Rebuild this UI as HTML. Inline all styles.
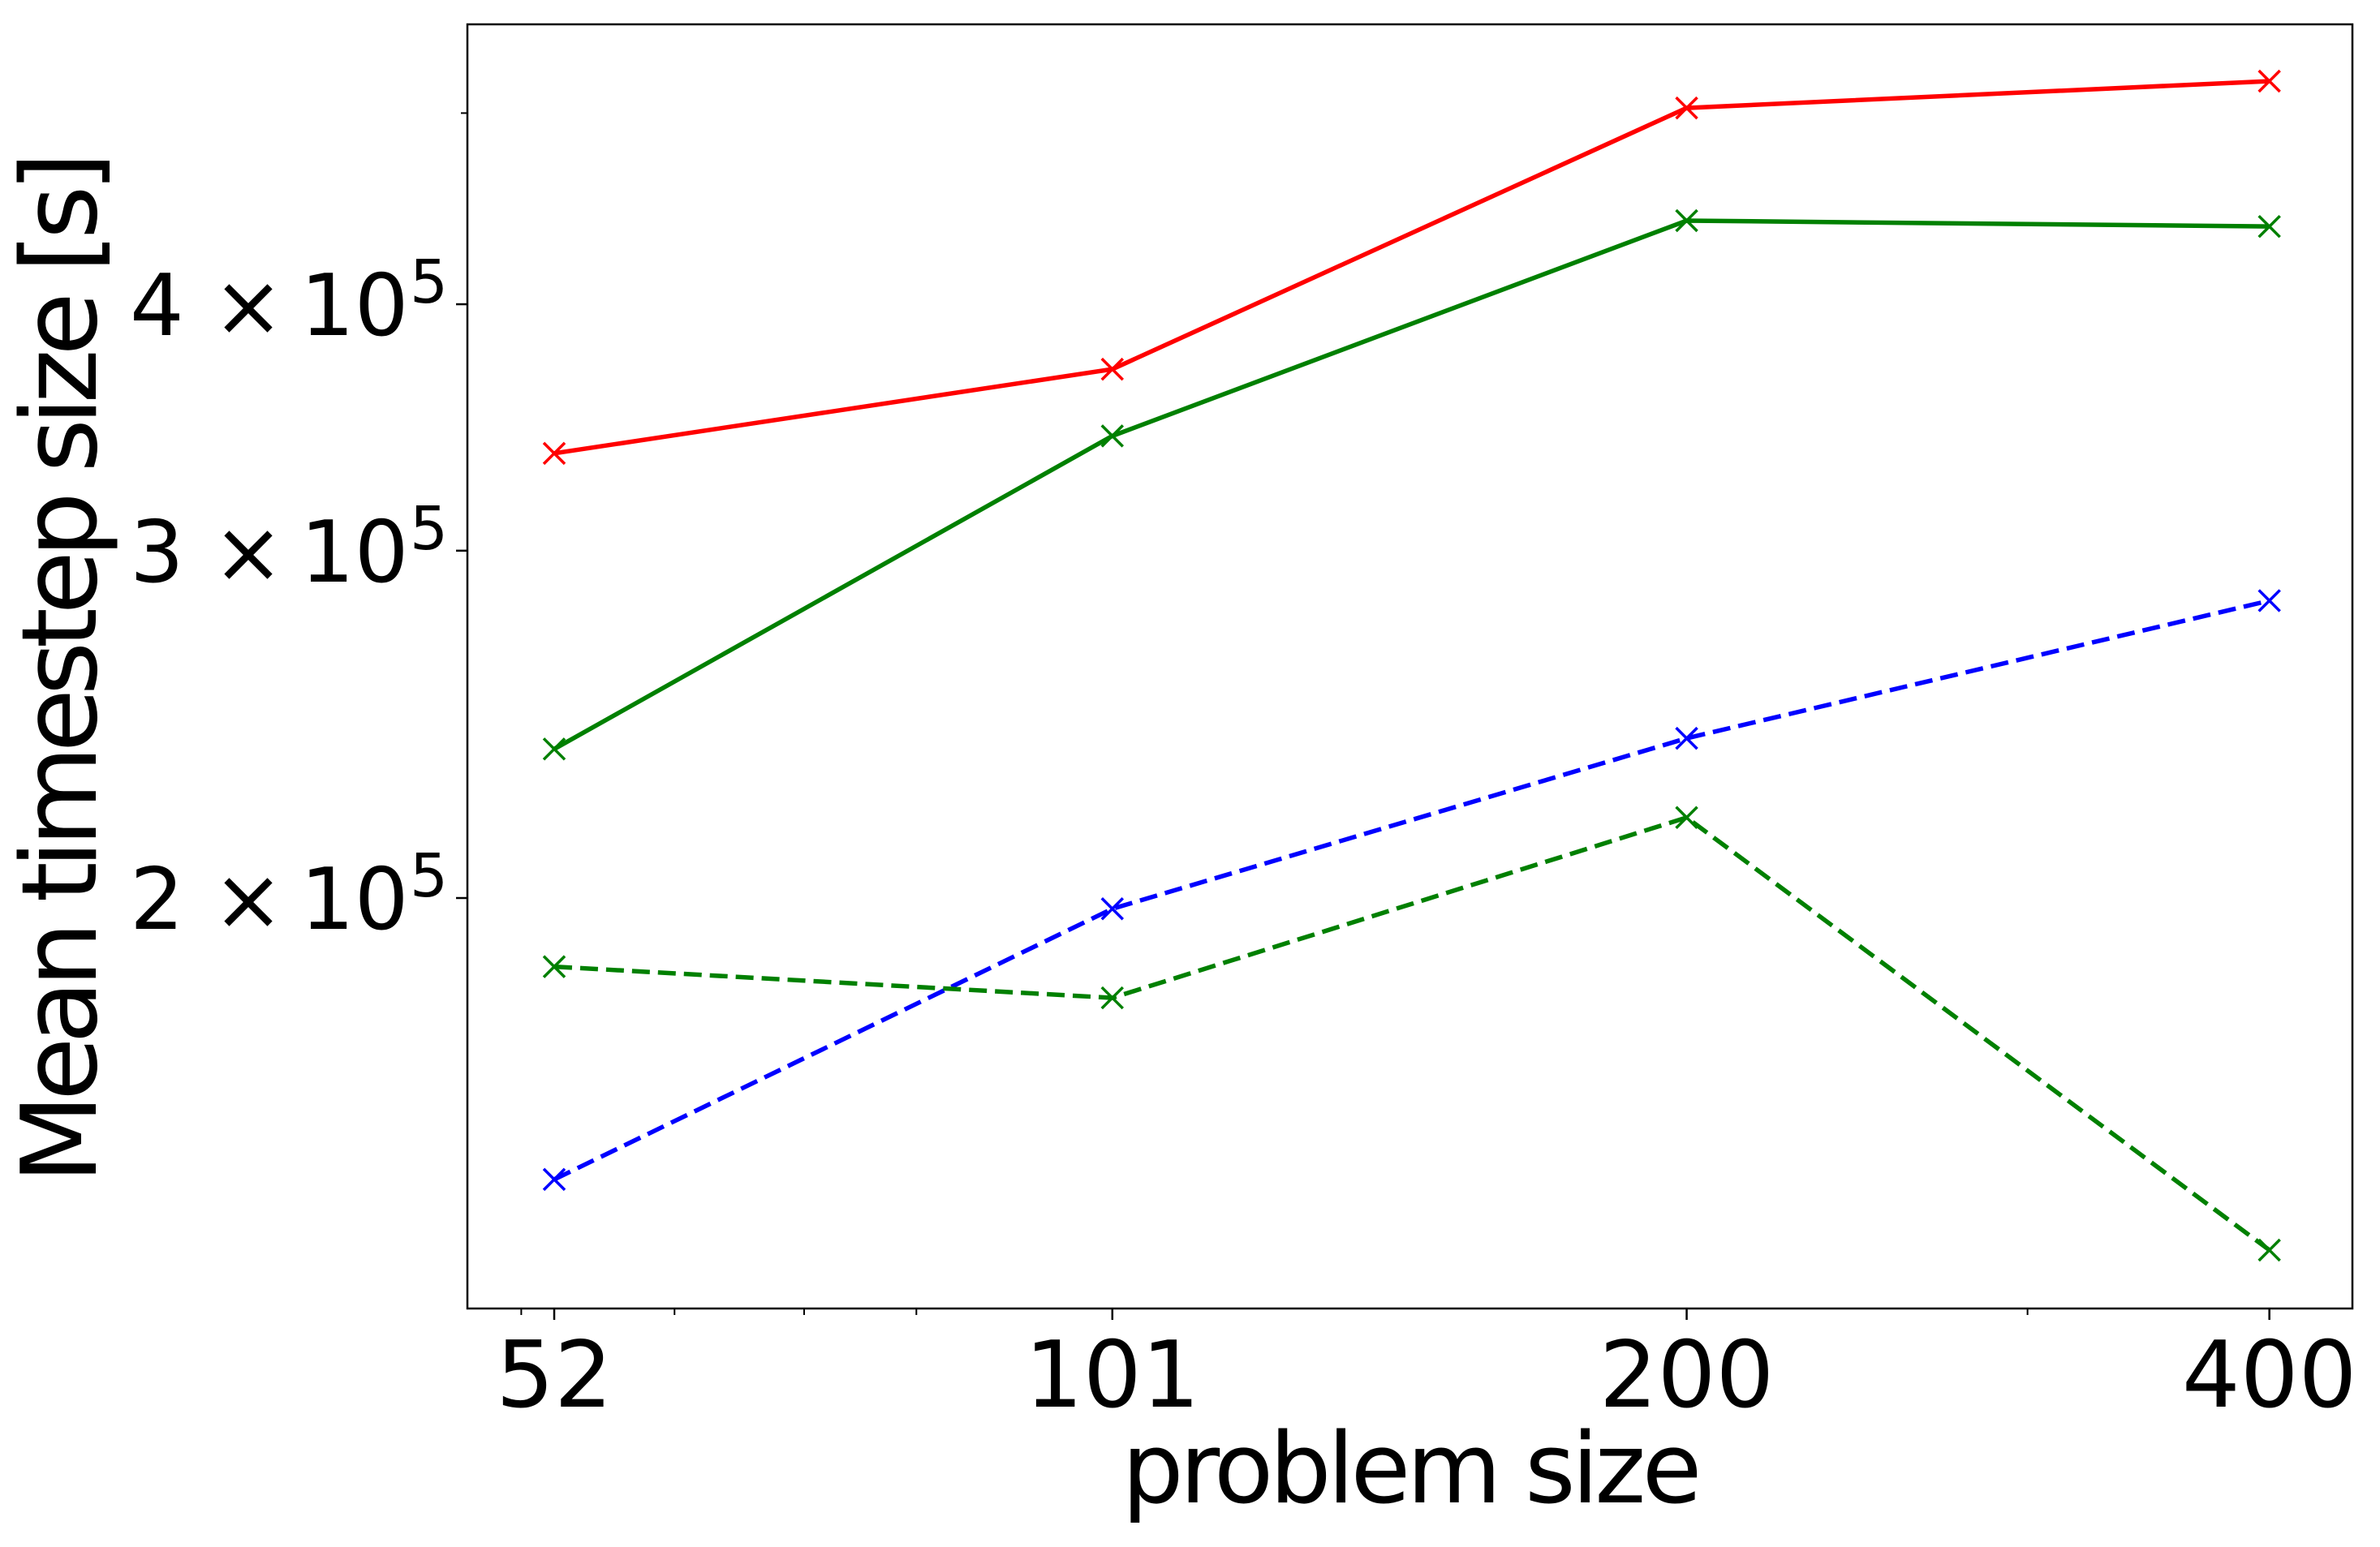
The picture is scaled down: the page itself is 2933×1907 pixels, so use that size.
<!DOCTYPE html>
<html><head><meta charset="utf-8"><style>
html,body{margin:0;padding:0;background:#fff;}
svg{display:block;font-family:"DejaVu Sans","Liberation Sans",sans-serif;}
</style></head><body>
<svg id="chart" width="2933" height="1907" viewBox="0 0 2933 1907" xmlns="http://www.w3.org/2000/svg">
<rect x="0" y="0" width="2933" height="1907" fill="#fff"/>
<g id="series"></g>
<rect x="576" y="30" width="2323" height="1583" fill="none" stroke="#000" stroke-width="2.5"/>
<g id="axes"></g>
<text x="1740" y="1852" font-size="120" text-anchor="middle" textLength="715">problem size</text>
<text transform="translate(118,823) rotate(-90)" font-size="128" text-anchor="middle" textLength="1272">Mean timestep size [s]</text>
</svg>
<script>
const categories = [52, 101, 200, 400];
const redSolid = [336100, 370800, 503000, 519000];
const greenSolid = [238000, 343000, 441000, 438000];
const blueDashed = [144000, 197500, 241000, 283000];
const greenDashed = [184600, 178000, 219700, 132600];
const xMinorTicks = [50, 60, 70, 80, 300];
const yTicks = [200000, 300000, 400000];
const yTickLabels = ["2", "3", "4"];
const yMinorTicks = [500000];

const NS = "http://www.w3.org/2000/svg";
function xScale(v){ return 683 + 1036 * Math.log(v / 52); }
function yScale(v){ return 1107 - 1056 * Math.log(v / 200000); }
const axes = document.getElementById('axes');
const series = document.getElementById('series');
function mk(tag, attrs, parent){ const e = document.createElementNS(NS, tag); for (const k in attrs) e.setAttribute(k, attrs[k]); parent.appendChild(e); return e; }

categories.forEach((c) => {
  const x = xScale(c);
  const t = mk('line', {x1:x, x2:x, y1:1613, y2:1627, stroke:'#000', 'stroke-width':2.5}, axes);
  
  
  const l = mk('text', {x:x, y:1734, 'font-size':113, 'text-anchor':'middle'}, axes);
  l.textContent = String(c);
  
  
});
xMinorTicks.forEach((c) => {
  const x = xScale(c);
  const t = mk('line', {x1:x, x2:x, y1:1613, y2:1621, stroke:'#000', 'stroke-width':2}, axes);
  
  
});
yTicks.forEach((v, i) => {
  const y = yScale(v);
  const t = mk('line', {x1:562, x2:576, y1:y, y2:y, stroke:'#000', 'stroke-width':2.5}, axes);
  
  
  const l = mk('text', {x:160, y:y + 38, 'font-size':105}, axes);
  const a = mk('tspan', {x:160}, l);
  a.textContent = yTickLabels[i];
  const b = mk('tspan', {x:262}, l);
  b.textContent = '\u00d7';
  const c = mk('tspan', {x:370}, l);
  c.textContent = '10';
  const s = mk('tspan', {x:505, 'font-size':74, dy:-40}, l);
  s.textContent = '5';
  
  
});
yMinorTicks.forEach((v) => {
  const y = yScale(v);
  const t = mk('line', {x1:568, x2:576, y1:y, y2:y, stroke:'#000', 'stroke-width':2}, axes);
  
  
});

function drawSeries(vals, color, dashed, name){
  const g = mk('g', {}, series);
  
  
  const pts = vals.map((v, i) => xScale(categories[i]) + ',' + yScale(v)).join(' ');
  const attrs = {points:pts, fill:'none', stroke:color, 'stroke-width':5.5};
  if (dashed) attrs['stroke-dasharray'] = '22 10';
  const pl = mk('polyline', attrs, g);
  
  
  vals.forEach((v, i) => {
    const x = xScale(categories[i]), y = yScale(v), r = 13;
    const p = mk('path', {d:`M${x-r},${y-r}L${x+r},${y+r}M${x-r},${y+r}L${x+r},${y-r}`, stroke:color, 'stroke-width':3.5, fill:'none'}, g);
    
    
  });
}
drawSeries(redSolid, '#ff0000', false, 'red-solid-series');
drawSeries(greenSolid, '#008000', false, 'green-solid-series');
drawSeries(blueDashed, '#0000ff', true, 'blue-dashed-series');
drawSeries(greenDashed, '#008000', true, 'green-dashed-series');
</script>
</body></html>
